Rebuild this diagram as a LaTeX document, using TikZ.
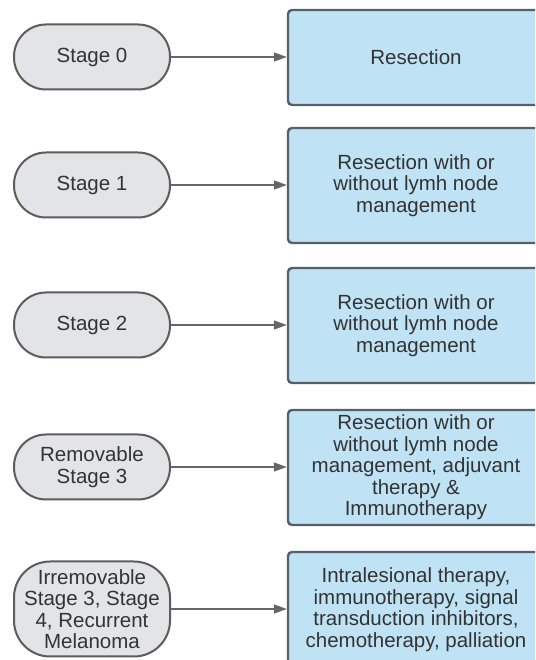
\documentclass[tikz,border=0pt]{standalone}
\usepackage{fontspec}
\setmainfont{Liberation Sans}
\usetikzlibrary{arrows.meta}
\definecolor{pillfill}{HTML}{E3E4E8}
\definecolor{pilldraw}{HTML}{5C5C5C}
\definecolor{boxfill}{HTML}{BFE3F5}
\definecolor{boxdraw}{HTML}{56606A}
\definecolor{txt}{HTML}{333333}
\definecolor{arr}{HTML}{666666}
\begin{document}
\begin{tikzpicture}[x=1pt,y=1pt,
  pill/.style={rectangle,rounded corners=32pt,fill=pillfill,draw=pilldraw,line width=2pt,
    minimum width=156pt,minimum height=65pt,inner sep=0pt,align=center,text=txt,
    font=\fontsize{20.5}{21.5}\selectfont},
  tbox/.style={rectangle,rounded corners=4pt,fill=boxfill,draw=boxdraw,line width=2.4pt,
    minimum width=256pt,inner sep=0pt,align=center,text=txt,
    font=\fontsize{20.5}{21.5}\selectfont},
  conn/.style={draw=arr,line width=1.5pt,-{Triangle[length=13pt,width=9pt]}}]
\useasboundingbox (0,0) rectangle (535,660);
\fill[white] (0,0) rectangle (535,660);
\begin{scope}
\clip (0,0) rectangle (535,660);
% left pills (y = 660 - row)
\node[pill] (p0) at (92,603) {Stage 0};
\node[pill] (p1) at (92,475) {Stage 1};
\node[pill] (p2) at (92,335) {Stage 2};
\node[pill] (p3) at (92,193) {Removable\\Stage 3};
\node[pill,minimum height=95pt,rounded corners=36pt] (p4) at (92,51) {Irremovable\\Stage 3, Stage\\4, Recurrent\\Melanoma};
% right boxes
\node[tbox,minimum height=95pt] (b0) at (416,602.5) {Resection};
\node[tbox,minimum height=115pt] (b1) at (416,474.5) {Resection with or\\without lymh node\\management};
\node[tbox,minimum height=115pt] (b2) at (416,334.5) {Resection with or\\without lymh node\\management};
\node[tbox,minimum height=115pt] (b3) at (416,192.5) {Resection with or\\without lymh node\\management, adjuvant\\therapy \&\\Immunotherapy};
\node[tbox,minimum height=115pt] (b4) at (416,50.5) {Intralesional therapy,\\immunotherapy, signal\\transduction inhibitors,\\chemotherapy, palliation};
% connectors
\draw[conn] (p0.east) -- (p0.east -| b0.west);
\draw[conn] (p1.east) -- (p1.east -| b1.west);
\draw[conn] (p2.east) -- (p2.east -| b2.west);
\draw[conn] (p3.east) -- (p3.east -| b3.west);
\draw[conn] (p4.east) -- (p4.east -| b4.west);
\end{scope}
\end{tikzpicture}
\end{document}
